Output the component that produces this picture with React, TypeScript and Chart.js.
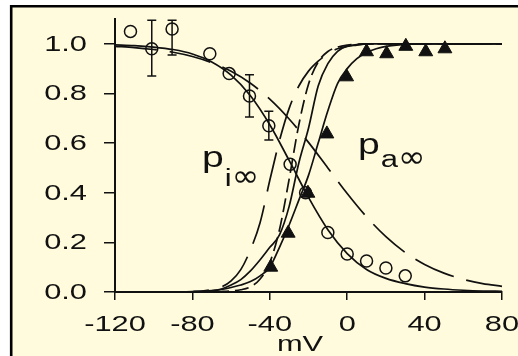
import React, { useEffect, useRef } from "react";
import { Chart, registerables } from "chart.js";

Chart.register(...registerables);

// ---- axis ticks ----
const xTicks = [-120, -80, -40, 0, 40, 80];
const xTickLabels = ["-120", "-80", "-40", "0", "40", "80"];
const yTicks = [0, 0.2, 0.4, 0.6, 0.8, 1.0];
const yTickLabels = ["0.0", "0.2", "0.4", "0.6", "0.8", "1.0"];
const xTitle = "mV";

// ---- measured points: inactivation (open circles) ----
const circV = [-112, -101, -90.5, -71, -61, -50.5, -40.5, -29.5, -21.5, -10, 0, 10, 20, 30];
const circP = [1.05, 0.98, 1.06, 0.96, 0.88, 0.79, 0.67, 0.515, 0.4, 0.24, 0.153, 0.125, 0.097, 0.065];
const circErrLo = [0, 0.11, 0.105, 0, 0, 0.085, 0.058, 0, 0, 0, 0, 0, 0, 0];
const circErrHi = [0, 0.115, 0.035, 0, 0, 0.085, 0.058, 0, 0, 0, 0, 0, 0, 0];

// ---- measured points: activation (filled triangles) ----
const triV = [-39.5, -30.5, -20.3, -10.5, -0.3, 10, 20.4, 30.3, 40.6, 50.5];
const triP = [0.1, 0.237, 0.398, 0.637, 0.867, 0.968, 0.96, 0.99, 0.968, 0.98];

// ---- inactivation curves ----
const inactV = [-120, -110, -100, -90, -80, -70, -60, -50, -40, -30, -20, -10, 0, 10, 20, 30, 40, 50, 60, 70, 80];
const inactSolid = [0.996, 0.993, 0.987, 0.977, 0.959, 0.927, 0.874, 0.791, 0.674, 0.53, 0.381, 0.251, 0.155, 0.091, 0.055, 0.034, 0.02, 0.012, 0.007, 0.004, 0.003];
const inactDashed = [0.99, 0.985, 0.977, 0.966, 0.949, 0.924, 0.889, 0.841, 0.777, 0.697, 0.603, 0.5, 0.397, 0.303, 0.223, 0.159, 0.111, 0.076, 0.051, 0.034, 0.023];

// ---- activation curves ----
const actV = [-120, -90, -80, -75, -70, -65, -60, -55, -50, -45, -40, -35, -30, -25, -20, -15, -10, -5, 0, 5, 10, 15, 20, 30, 40, 60, 80];
const actDashLong = [0, 0, 0.002, 0.004, 0.01, 0.02, 0.045, 0.09, 0.17, 0.28, 0.45, 0.61, 0.74, 0.83, 0.89, 0.93, 0.96, 0.98, 0.99, 0.995, 1, 1, 1, 1, 1, 1, 1];
const actDashShort = [0, 0, 0, 0.001, 0.001, 0.002, 0.004, 0.009, 0.021, 0.052, 0.119, 0.251, 0.455, 0.674, 0.837, 0.927, 0.969, 0.987, 0.995, 0.998, 1, 1, 1, 1, 1, 1, 1];
const actSolidLeft = [0, 0, 0.001, 0.003, 0.006, 0.012, 0.028, 0.05, 0.085, 0.13, 0.18, 0.23, 0.345, 0.52, 0.66, 0.83, 0.92, 0.97, 0.99, 0.997, 1, 1, 1, 1, 1, 1, 1];
const actSolidRight = [0, 0, 0.001, 0.002, 0.005, 0.01, 0.018, 0.028, 0.042, 0.065, 0.1, 0.18, 0.27, 0.37, 0.47, 0.6, 0.73, 0.84, 0.9, 0.94, 0.965, 0.98, 0.99, 0.998, 1, 1, 1];

// ---- curve labels (position in data units: left edge, baseline) ----
const labelPi = { main: "p", sub: ["i", "\u221E"], v: -75, p: 0.505 };
const labelPa = { main: "p", sub: ["a", "\u221E"], v: 5.6, p: 0.556 };

const W = 518;
const H = 356;
const CREAM = "#fffbdc";
const INK = "#111111";
const FONT = "'Liberation Sans', Arial, sans-serif";
const SX = 1.4;

function pts(xs: number[], ys: number[]) {
  return xs.map((x, i) => ({ x, y: ys[i] }));
}

function stretchText(ctx: CanvasRenderingContext2D, text: string, x: number, y: number, align: CanvasTextAlign, font: string, sx = SX) {
  ctx.save();
  ctx.font = font;
  const w = ctx.measureText(text).width * sx;
  let left = x;
  if (align === "center") left = x - w / 2;
  else if (align === "right") left = x - w;
  ctx.translate(left, y);
  ctx.scale(sx, 1);
  ctx.textAlign = "left";
  ctx.textBaseline = "alphabetic";
  ctx.fillText(text, 0, 0);
  ctx.restore();
  return w;
}

const bgPlugin = {
  id: "bgFrame",
  beforeDraw(chart: any) {
    const ctx = chart.ctx as CanvasRenderingContext2D;
    ctx.save();
    ctx.fillStyle = "#ffffff";
    ctx.fillRect(0, 0, W, H);
    ctx.fillStyle = CREAM;
    ctx.fillRect(11, 6, W - 11, H - 6);
    ctx.strokeStyle = "#000";
    ctx.lineWidth = 2.6;
    ctx.beginPath();
    ctx.moveTo(11.2, H);
    ctx.lineTo(11.2, 6.2);
    ctx.lineTo(W, 6.2);
    ctx.stroke();
    ctx.restore();
  },
};

const errPlugin = {
  id: "errBars",
  afterDatasetsDraw(chart: any) {
    const ctx = chart.ctx as CanvasRenderingContext2D;
    const xs = chart.scales.x;
    const ys = chart.scales.y;
    ctx.save();
    ctx.strokeStyle = INK;
    ctx.lineWidth = 1.5;
    circV.forEach((v, i) => {
      const lo = circErrLo[i];
      const hi = circErrHi[i];
      if (!lo && !hi) return;
      const px = xs.getPixelForValue(v);
      const y1 = ys.getPixelForValue(circP[i] - lo);
      const y2 = ys.getPixelForValue(circP[i] + hi);
      ctx.beginPath();
      ctx.moveTo(px, y1);
      ctx.lineTo(px, y2);
      ctx.moveTo(px - 4.5, y1);
      ctx.lineTo(px + 4.5, y1);
      ctx.moveTo(px - 4.5, y2);
      ctx.lineTo(px + 4.5, y2);
      ctx.stroke();
    });
    ctx.restore();
  },
};

const textPlugin = {
  id: "texts",
  afterDraw(chart: any) {
    const ctx = chart.ctx as CanvasRenderingContext2D;
    const xs = chart.scales.x;
    const ys = chart.scales.y;
    ctx.save();
    ctx.fillStyle = INK;
    const tickFont = `22px ${FONT}`;
    yTicks.forEach((v, i) => {
      const py = ys.getPixelForValue(v);
      stretchText(ctx, yTickLabels[i], 87, py + 7, "right", tickFont);
    });
    xTicks.forEach((v, i) => {
      const px = xs.getPixelForValue(v);
      stretchText(ctx, xTickLabels[i], px, 331, "center", tickFont);
    });
    stretchText(ctx, xTitle, 300, 351, "center", tickFont);

    const drawLabel = (lab: any, subDrop: number) => {
      const px = xs.getPixelForValue(lab.v);
      const py = ys.getPixelForValue(lab.p);
      const w = stretchText(ctx, lab.main, px, py, "left", `29px ${FONT}`, 1.35);
      const w2 = stretchText(ctx, lab.sub[0], px + w + 1, py + subDrop, "left", `23px ${FONT}`, 1.35);
      stretchText(ctx, lab.sub[1], px + w + w2 + 1, py + subDrop, "left", `30px 'DejaVu Sans', sans-serif`, 1.1);
    };
    drawLabel(labelPi, 19);
    drawLabel(labelPa, 13);
    ctx.restore();
  },
};

export default function App() {
  const ref = useRef<HTMLCanvasElement | null>(null);

  useEffect(() => {
    document.body.style.margin = "0";
    const canvas = ref.current;
    if (!canvas) return;

    const lineDs = (data: any[], dash: number[]) => ({
      type: "line" as const,
      data,
      showLine: true,
      borderColor: INK,
      borderWidth: 1.7,
      borderDash: dash,
      pointRadius: 0,
      fill: false,
      cubicInterpolationMode: "monotone" as const,
      clip: false as any,
    });

    const chart = new Chart(canvas, {
      type: "scatter",
      data: {
        datasets: [
          lineDs(pts(inactV, inactSolid), []),
          lineDs(pts(inactV, inactDashed), [42, 13]),
          lineDs(pts(actV, actDashLong), [40, 14]),
          lineDs(pts(actV, actDashShort), [14, 6]),
          lineDs(pts(actV, actSolidLeft), []),
          lineDs(pts(actV, actSolidRight), []),
          {
            type: "scatter" as const,
            data: pts(circV, circP),
            pointStyle: "circle",
            pointRadius: 6,
            pointBorderWidth: 1.5,
            pointBorderColor: INK,
            pointBackgroundColor: "rgba(0,0,0,0)",
            showLine: false,
            clip: false as any,
          },
          {
            type: "scatter" as const,
            data: pts(triV, triP),
            pointStyle: "triangle",
            pointRadius: 8,
            pointBorderWidth: 1,
            pointBorderColor: INK,
            pointBackgroundColor: INK,
            showLine: false,
            clip: false as any,
          },
        ] as any,
      },
      options: {
        responsive: false,
        animation: false,
        devicePixelRatio: 1,
        layout: { padding: { left: 0, top: 19, right: 16, bottom: 0 } },
        plugins: {
          legend: { display: false },
          tooltip: { enabled: false },
        },
        scales: {
          x: {
            type: "linear",
            min: -120,
            max: 80,
            afterBuildTicks: (s: any) => {
              s.ticks = xTicks.map((v) => ({ value: v }));
            },
            afterFit: (s: any) => {
              s.height = 64;
            },
            ticks: { display: false },
            grid: { drawOnChartArea: false, drawTicks: true, tickLength: 8, color: INK, lineWidth: 1.5 },
            border: { display: true, color: INK, width: 2 },
          },
          y: {
            type: "linear",
            min: 0,
            max: 1.1,
            afterBuildTicks: (s: any) => {
              s.ticks = yTicks.map((v) => ({ value: v }));
            },
            afterFit: (s: any) => {
              s.width = 115;
            },
            ticks: { display: false },
            grid: { drawOnChartArea: false, drawTicks: true, tickLength: 11, color: INK, lineWidth: 1.5 },
            border: { display: true, color: INK, width: 2 },
          },
        },
      },
      plugins: [bgPlugin, errPlugin, textPlugin],
    } as any);

    return () => chart.destroy();
  }, []);

  return (
    <div style={{ width: W, height: H }}>
      <canvas ref={ref} width={W} height={H} style={{ display: "block", width: W, height: H }} />
    </div>
  );
}
